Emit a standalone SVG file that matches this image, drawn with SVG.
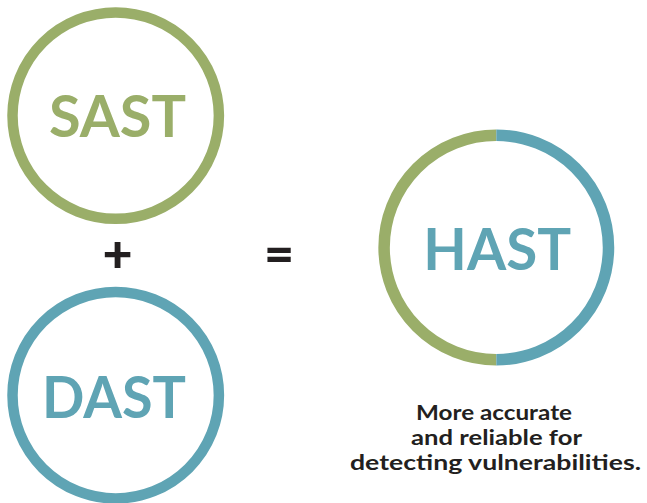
<svg xmlns="http://www.w3.org/2000/svg" width="647" height="503" viewBox="0 0 647 503">
<style>
.ring{fill:none;stroke-width:10.5}
.green{stroke:#9AAE69}
.blue{stroke:#5FA4B4}
.big{font-family:Lato,"Liberation Sans",sans-serif;font-weight:bold;font-size:58px;text-anchor:middle}
.op{font-family:Lato,"Liberation Sans",sans-serif;font-weight:900;font-size:52px;text-anchor:middle;fill:#231F20}
.cap{font-family:Lato,"Liberation Sans",sans-serif;font-weight:bold;font-size:21px;text-anchor:middle;fill:#231F20}
</style>
<rect width="647" height="503" fill="#fff"/>
<g id="sast">
<circle class="ring green" cx="115.7" cy="115.6" r="103.2"/>
<text class="big" x="117.5" y="137" fill="#9AAE69" textLength="137" lengthAdjust="spacingAndGlyphs">SAST</text>
</g>
<g id="dast">
<circle class="ring blue" cx="115.7" cy="395.2" r="103.2"/>
<text class="big" x="114" y="418.3" fill="#5FA4B4" textLength="144" lengthAdjust="spacingAndGlyphs">DAST</text>
</g>
<g id="hast">
<path class="ring green" style="stroke-width:11.5" d="M496.3 135.3 A112.2 112.2 0 0 0 496.3 359.7"/>
<path class="ring blue" style="stroke-width:11.5" d="M496.3 135.3 A112.2 112.2 0 0 1 496.3 359.7"/>
<text class="big" x="497.2" y="270" fill="#5FA4B4" textLength="147.7" lengthAdjust="spacingAndGlyphs">HAST</text>
</g>
<g id="operators">
<text class="op" x="117.7" y="272">+</text>
<text class="op" x="279" y="272">=</text>
</g>
<g id="caption">
<text class="cap" x="494" y="420" textLength="156" lengthAdjust="spacingAndGlyphs">More accurate</text>
<text class="cap" x="496.5" y="445" textLength="171" lengthAdjust="spacingAndGlyphs">and reliable for</text>
<text class="cap" x="495.5" y="469.5" textLength="291" lengthAdjust="spacingAndGlyphs">detecting vulnerabilities.</text>
</g>
<g id="connectors"/>
</svg>
